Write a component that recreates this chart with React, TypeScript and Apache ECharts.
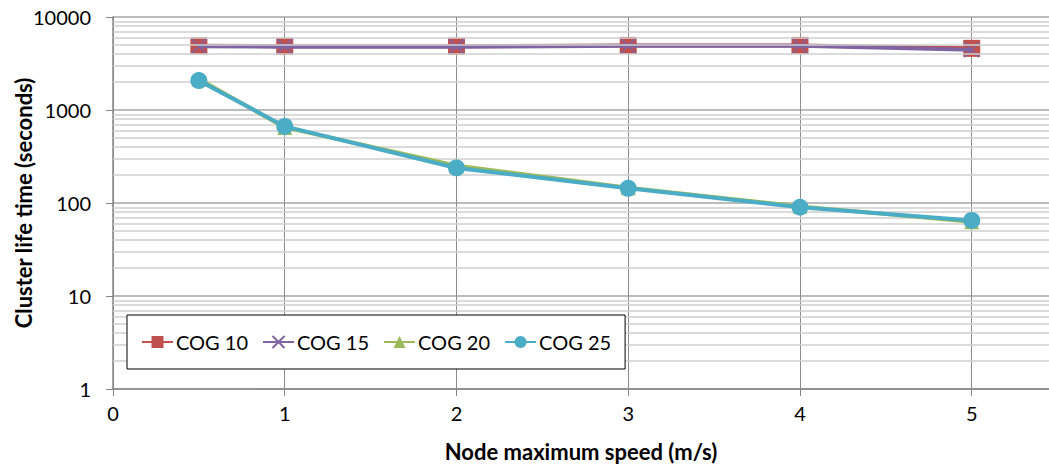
import React, { useEffect, useRef } from "react";
import * as echarts from "echarts";

const speeds = [0.5, 1, 2, 3, 4, 5];
const cog10 = [4900, 4850, 4850, 4950, 4950, 4600];
const cog15 = [4850, 4800, 4800, 4900, 4900, 4450];
const cog20 = [2150, 650, 252, 146, 92, 63];
const cog25 = [2070, 666, 238, 144, 90, 65];
const seriesNames = ["COG 10", "COG 15", "COG 20", "COG 25"];
const minorValues = [1, 10, 100, 1000].flatMap((d) => [2, 3, 4, 5, 6, 7, 8, 9].map((m) => m * d));

const FONT = "Lato, 'Open Sans', sans-serif";

export default function App() {
  const ref = useRef<HTMLDivElement>(null);
  useEffect(() => {
    if (!ref.current) return;
    const chart = echarts.init(ref.current, undefined, { renderer: "svg" });
    const pts = (vals: number[]) => speeds.map((x, i) => [x, vals[i]]);
    const lineBase = (name: string, vals: number[], color: string, symbol: string, size: number, z: number) => ({
      name,
      type: "line",
      data: pts(vals),
      symbol,
      symbolSize: size,
      z,
      lineStyle: { color, width: 4 },
      itemStyle: { color, borderColor: color, borderWidth: symbol.startsWith("path") ? 1.5 : 0 },
      emphasis: { disabled: true },
    });
    chart.setOption({
      animation: false,
      textStyle: { fontFamily: FONT },
      grid: { left: 113, right: 0, top: 17, bottom: 77, containLabel: false, outerBoundsMode: "none" },
      legend: {
        data: seriesNames,
        left: 127,
        top: 315,
        width: 485,
        padding: [17, 14, 17, 14],
        borderColor: "#000",
        borderWidth: 1,
        backgroundColor: "#fff",
        itemWidth: 31,
        itemHeight: 15,
        itemGap: 14,
        textStyle: { fontSize: 20, color: "#000", fontFamily: FONT, padding: [0, 0, 0, -2] },
        z: 10,
      },
      xAxis: {
        type: "value",
        min: 0,
        max: 5.45,
        interval: 1,
        name: "Node maximum speed (m/s)",
        nameLocation: "middle",
        nameGap: 51,
        nameMoveOverlap: false,
        nameTextStyle: { fontSize: 22, fontWeight: "bold", color: "#000", fontFamily: FONT },
        axisLine: { lineStyle: { color: "#868686", width: 1.5 } },
        axisTick: { show: true, inside: false, length: 7, lineStyle: { color: "#868686" } },
        axisLabel: { fontSize: 20, color: "#000", margin: 14, showMaxLabel: false, fontFamily: FONT },
        splitLine: { show: true, lineStyle: { color: "#8c8c8c", width: 1 } },
      },
      yAxis: {
        type: "log",
        logBase: 10,
        min: 1,
        max: 10000,
        name: "Cluster life time (seconds)",
        nameLocation: "middle",
        nameGap: 79,
        nameMoveOverlap: false,
        nameTextStyle: { fontSize: 22, fontWeight: "bold", color: "#000", fontFamily: FONT },
        axisLine: { show: true, lineStyle: { color: "#868686", width: 1.5 } },
        axisTick: { show: true, inside: false, length: 7, lineStyle: { color: "#868686" } },
        axisLabel: {
          fontSize: 20,
          color: "#000",
          margin: 22,
          fontFamily: FONT,
          formatter: (v: number) => String(Math.round(v)),
        },
        splitLine: { show: true, lineStyle: { color: "#a6a6a6", width: 1.5 } },
      },
      series: [
        {
          name: "minor",
          type: "line",
          data: [],
          silent: true,
          z: 1,
          markLine: {
            silent: true,
            symbol: ["none", "none"],
            label: { show: false },
            lineStyle: { color: "#cfcfcf", width: 1.5, type: "solid" },
            emphasis: { disabled: true },
            data: minorValues.map((v) => ({ yAxis: v })),
          },
        },
        lineBase("COG 10", cog10, "#C0504D", "rect", 17, 3),
        lineBase("COG 15", cog15, "#8064A2", "path://M0,0L10,10M10,0L0,10", 15, 4),
        lineBase("COG 20", cog20, "#9BBB59", "triangle", 15, 5),
        lineBase("COG 25", cog25, "#4BACC6", "circle", 17, 6),
      ],
    });
    return () => chart.dispose();
  }, []);
  return (
    <div
      ref={ref}
      style={{ position: "absolute", left: 0, top: 0, width: 1049, height: 466, background: "#fff" }}
    />
  );
}
